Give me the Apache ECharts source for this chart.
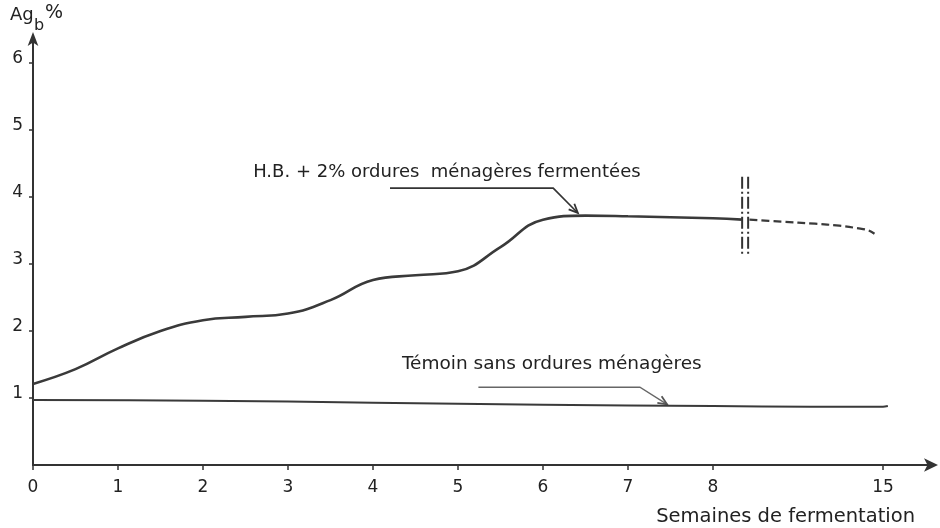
<!DOCTYPE html>
<html><head><meta charset="utf-8">
<script src="https://cdn.jsdelivr.net/npm/echarts@6/dist/echarts.min.js"></script>
<style>html,body{margin:0;padding:0;background:#fff}#c{width:940px;height:528px}</style>
</head><body><div id="c"></div>
<script>
// ---- data ----
const xTickWeeks = [0, 1, 2, 3, 4, 5, 6, 7, 8, 15];
const xTickLabels = ['0', '1', '2', '3', '4', '5', '6', '7', '8', '15'];
const yTickValues = [1, 2, 3, 4, 5, 6];
const yTickLabels = ['1', '2', '3', '4', '5', '6'];
// H.B. + 2% ordures ménagères fermentées (solid part)
const hbWeeks = [0, 0.5, 1, 1.5, 2, 2.5, 3, 3.5, 4, 4.5, 5, 5.5, 6, 6.5, 7, 8, 9.2];
const hbValues = [1.21, 1.43, 1.74, 2.0, 2.16, 2.21, 2.26, 2.46, 2.76, 2.83, 2.89, 3.25, 3.66, 3.72, 3.71, 3.68, 3.66];
// dashed continuation after the axis break
const hbDashWeeks = [9.5, 10.8, 12.2, 13.2, 14.0, 14.4, 14.65];
const hbDashValues = [3.66, 3.63, 3.6, 3.57, 3.53, 3.5, 3.45];
// Témoin sans ordures ménagères
const temWeeks = [0, 2, 4, 6, 8, 12, 15, 15.2];
const temValues = [0.97, 0.96, 0.93, 0.9, 0.88, 0.87, 0.87, 0.88];
const breakWeek = 9.2;
const labelHB = 'H.B. + 2% ordures  ménagères fermentées';
const labelTem = 'Témoin sans ordures ménagères';
const xTitle = 'Semaines de fermentation';

// broken axis: weeks 0..8 linear, then 8..15 compressed into 2 units
function toAxis(w) { return w <= 8 ? w : 8 + (w - 8) * 2 / 7; }
function pts(ws, vs) { return ws.map((w, i) => [toAxis(w), vs[i]]); }

const FONT = 'DejaVu Sans';
const INK = '#333';
const chart = echarts.init(document.getElementById('c'), null, {renderer: 'canvas'});
chart.setOption({
  animation: false,
  backgroundColor: '#fff',
  grid: {left: 33, right: 6, top: 36, bottom: 63},
  xAxis: {
    type: 'value', min: 0, max: 10.6, interval: 1,
    splitLine: {show: false},
    axisLine: {lineStyle: {color: INK, width: 2}, symbol: ['none', 'arrow'], symbolSize: [10, 14], symbolOffset: [0, 4]},
    axisTick: {show: true, length: 5, lineStyle: {color: INK, width: 1.5}, customValues: xTickWeeks.map(toAxis)},
    axisLabel: {customValues: xTickWeeks.map(toAxis), margin: 14, fontSize: 17, color: '#222', fontFamily: FONT,
      formatter: v => { const i = xTickWeeks.map(toAxis).findIndex(p => Math.abs(p - v) < 1e-6); return i >= 0 ? xTickLabels[i] : ''; }}
  },
  yAxis: {
    type: 'value', min: 0, max: 6.4, interval: 1,
    splitLine: {show: false},
    axisLine: {lineStyle: {color: INK, width: 2}, symbol: ['none', 'arrow'], symbolSize: [8, 14], symbolOffset: [0, 4]},
    axisTick: {show: true, length: 4, lineStyle: {color: INK, width: 1.5}, customValues: yTickValues},
    axisLabel: {customValues: yTickValues, margin: 10, fontSize: 17, color: '#222', fontFamily: FONT,
      verticalAlign: 'bottom', lineHeight: 8,
      formatter: v => { const i = yTickValues.indexOf(v); return i >= 0 ? yTickLabels[i] : ''; }}
  },
  series: [
    {type: 'line', data: pts(hbWeeks, hbValues), smooth: 0.45, showSymbol: false, lineStyle: {color: '#3a3a3a', width: 2.6}},
    {type: 'line', data: pts(hbDashWeeks, hbDashValues), smooth: 0.35, showSymbol: false, lineStyle: {color: '#3a3a3a', width: 2.2, type: [8, 4]}},
    {type: 'line', data: pts(temWeeks, temValues), smooth: 0.3, showSymbol: false, lineStyle: {color: '#3a3a3a', width: 2}}
  ]
});

function px(w, v) { return chart.convertToPixel({gridIndex: 0}, [toAxis(w), v]); }
function arrowHead(corner, tip, color) {
  const dx = tip[0] - corner[0], dy = tip[1] - corner[1], L = Math.hypot(dx, dy);
  const ux = dx / L, uy = dy / L, nx = -uy, ny = ux;
  return {type: 'polyline', silent: true, shape: {points: [
    [tip[0] - 9 * ux + 4 * nx, tip[1] - 9 * uy + 4 * ny], tip, [tip[0] - 9 * ux - 4 * nx, tip[1] - 9 * uy - 4 * ny]]},
    style: {stroke: color, lineWidth: 1.8, fill: null}};
}
const g = [];
// axis title Ag_b %
g.push({type: 'text', left: 10, top: 6, style: {text: 'Ag', font: '18px ' + FONT, fill: '#222'}});
g.push({type: 'text', left: 34, top: 18, style: {text: 'b', font: '16px ' + FONT, fill: '#222'}});
g.push({type: 'text', left: 45, top: 4, style: {text: '%', font: '19px ' + FONT, fill: '#222'}});
g.push({type: 'text', right: 25, top: 507, style: {text: xTitle, font: '19.5px ' + FONT, fill: '#222'}});
// annotation HB
{
  const t = px(2.59, 4.37);
  g.push({type: 'text', x: t[0], y: t[1], style: {text: labelHB, font: '18px ' + FONT, fill: '#222', verticalAlign: 'middle'}});
  const a = px(4.2, 4.13), b = px(6.12, 4.13), c = px(6.41, 3.76);
  g.push({type: 'polyline', silent: true, shape: {points: [a, b, c]}, style: {stroke: '#333', lineWidth: 1.6, fill: null}});
  g.push(arrowHead(b, c, '#333'));
}
// annotation Témoin
{
  const t = px(4.34, 1.51);
  g.push({type: 'text', x: t[0], y: t[1], style: {text: labelTem, font: '18.5px ' + FONT, fill: '#222', verticalAlign: 'middle'}});
  const a = px(5.24, 1.16), b = px(7.14, 1.16), c = px(7.46, 0.905);
  g.push({type: 'polyline', silent: true, shape: {points: [a, b, c]}, style: {stroke: '#666', lineWidth: 1.3, fill: null}});
  g.push(arrowHead(b, c, '#555'));
}
// axis break marks
{
  const p1 = px(breakWeek, 4.3), p2 = px(breakWeek, 3.13);
  [0, 6].forEach(dx => g.push({type: 'line', silent: true,
    shape: {x1: p1[0] + dx, y1: p1[1], x2: p2[0] + dx, y2: p2[1]},
    style: {stroke: '#333', lineWidth: 2, lineDash: [12, 3, 2, 3]}}));
}
chart.setOption({graphic: g});
</script>
</body></html>
